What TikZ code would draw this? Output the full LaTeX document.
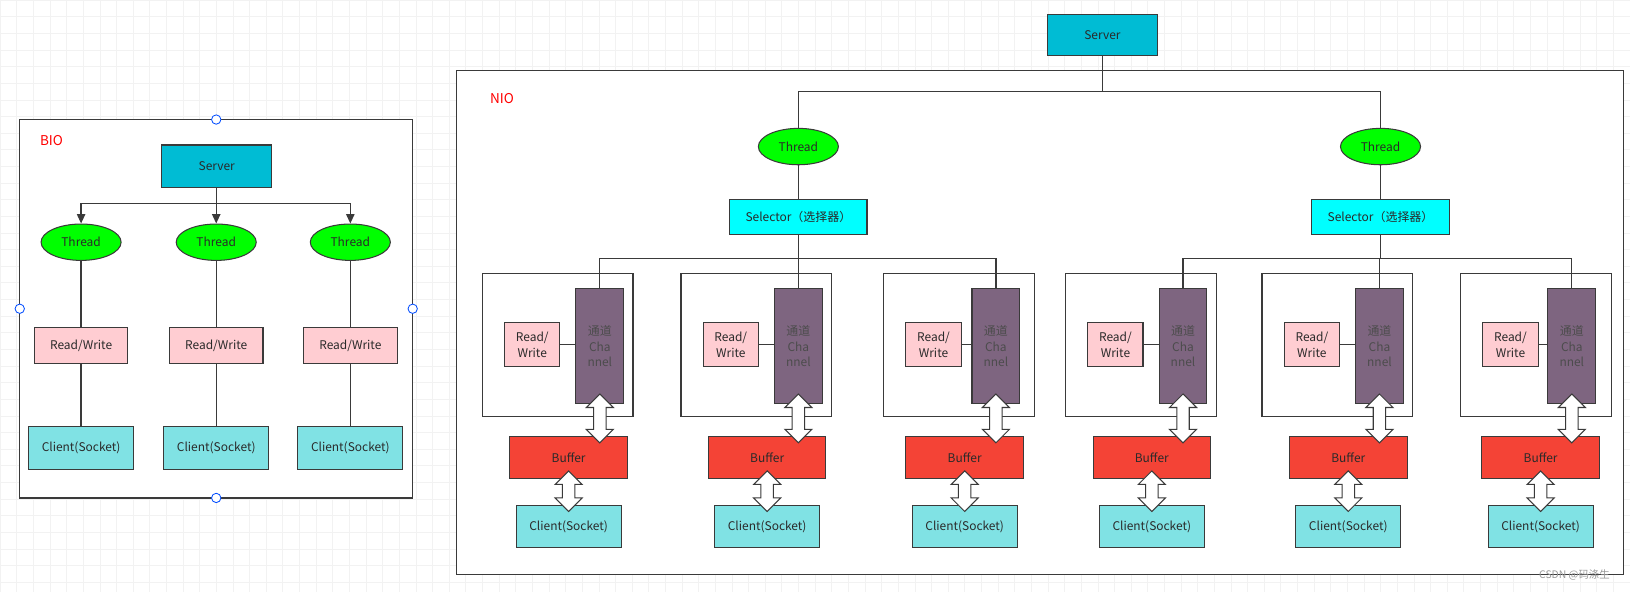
\documentclass[tikz,border=0pt]{standalone}
\usepackage{fontspec}
\setmainfont{Noto Sans CJK SC}
\usetikzlibrary{calc,shapes.geometric,arrows.meta}
\definecolor{srv}{HTML}{00BCD4}
\definecolor{thr}{HTML}{00FF00}
\definecolor{rw}{HTML}{FFCDD2}
\definecolor{cli}{HTML}{80E2E4}
\definecolor{sel}{HTML}{00FFFF}
\definecolor{chn}{HTML}{7E6580}
\definecolor{buf}{HTML}{F44336}
\definecolor{ln}{HTML}{3A3A3A}
\definecolor{txt}{HTML}{2A2A2A}
\newcommand\fatarrow[2]{%
  \draw[ln,fill=white,line width=1pt,line join=miter] let \p1=(#1), \p2=(#2) in
   (\x1,\y1) -- (\x1+13pt,\y1-13pt) -- (\x1+6pt,\y1-13pt) -- (\x2+6pt,\y2+13pt) -- (\x2+13pt,\y2+13pt)
   -- (\x2,\y2) -- (\x2-13pt,\y2+13pt) -- (\x2-6pt,\y2+13pt) -- (\x1-6pt,\y1-13pt) -- (\x1-13pt,\y1-13pt) -- cycle;}
\begin{document}
\begin{tikzpicture}[x=1pt,y=-1pt,
  box/.style={draw=ln,line width=1pt,text=txt,font=\fontsize{11.5}{13}\selectfont,inner sep=0pt,anchor=north west},
  wire/.style={draw=ln,line width=1.2pt},
  frame/.style={draw=ln,line width=1.2pt,fill=white},
  thread/.style={ellipse,draw=ln,line width=1pt,fill=thr,text=txt,minimum width=77pt,minimum height=35pt,inner sep=0pt,font=\fontsize{11.5}{13}\selectfont},
  handle/.style={circle,draw=blue!70!cyan,fill=white,line width=0.8pt,minimum size=9pt,inner sep=0pt}]
\useasboundingbox (0,0) rectangle (1568,569);
\fill[white] (0,0) rectangle (1568,569);
\foreach \i in {0,16,...,1568} \draw[black!5,line width=0.5pt] (\i,0) -- (\i,569);
\foreach \i in {0,16,...,569} \draw[black!5,line width=0.5pt] (0,\i) -- (1568,\i);
% ---------- BIO ----------
\draw[frame] (19,115) rectangle (397,479);
\node[anchor=west,text=red,font=\fontsize{13}{15}\selectfont] (bio) at (35,135) {BIO};
\node[box,fill=srv,minimum width=106pt,minimum height=41pt] (bsrv) at (155,139) {Server};
\foreach \n/\x in {1/78,2/208,3/337}{
  \node[thread] (bt\n) at (\x,233) {Thread};
  \node[box,fill=rw,minimum width=90pt,minimum height=35pt,anchor=center] (brw\n) at (\x,332.5) {Read/Write};
  \node[box,fill=cli,minimum width=101pt,minimum height=42pt,anchor=center] (bcl\n) at (\x,431) {Client(Socket)};
  \draw[wire] (bt\n) -- (brw\n);
  \draw[wire] (brw\n) -- (bcl\n);
}
\coordinate (bj) at (bsrv.south |- 0,196);
\draw[wire] (bsrv.south) -- (bj);
\foreach \n in {1,2,3} \draw[wire,-{Triangle[length=9pt,width=8pt]}] (bj) -| (bt\n.north);
\node[handle] (h1) at (208,115) {};
\node[handle] (h2) at (208,479) {};
\node[handle] (h3) at (19,297) {};
\node[handle] (h4) at (397,297) {};
% ---------- NIO ----------
\draw[frame] (439,68) rectangle (1562,553);
\node[anchor=west,text=red,font=\fontsize{13}{15}\selectfont] (nio) at (468,95) {NIO};
\node[box,fill=srv,minimum width=106pt,minimum height=40pt] (nsrv) at (1007,13) {Server};
\foreach \s/\x in {1/768,2/1328}{
  \node[thread] (nt\s) at (\x,141) {Thread};
  \node[box,fill=sel,minimum width=132pt,minimum height=34pt,anchor=center] (sel\s) at (\x,209) {Selector（选择器）};
  \draw[wire] (nt\s) -- (sel\s);
}
\coordinate (nj) at (nsrv.south |- 0,88);
\draw[wire] (nsrv.south) -- (nj) -| (nt1.north);
\draw[wire] (nj) -| (nt2.north);
\foreach \g/\l/\o in {1/464/113,2/655/113,3/850/108,4/1025/113,5/1214/113,6/1405/107}{
  \draw[line width=1.2pt,draw=ln] (\l,263) rectangle ++(145,138);
  \node[box,fill=chn,minimum width=46pt,minimum height=111pt,anchor=north,align=center,text=black!70,font=\fontsize{11.5}{15}\selectfont] (ch\g) at (\l+\o,277) {通道\\Cha\\nnel};
  \node[box,fill=rw,minimum width=53pt,minimum height=42pt,align=center,font=\fontsize{11.5}{15}\selectfont] (rw\g) at (\l+21,310) {Read/\\Write};
  \node[box,fill=buf,minimum width=113pt,minimum height=41pt] (bf\g) at (\l+\o-87,419) {Buffer};
  \node[box,fill=cli,minimum width=101pt,minimum height=40pt] (cl\g) at (\l+\o-81,486) {Client(Socket)};
  \draw[wire] (rw\g.east) -- (rw\g.east -| ch\g.west);
  \fatarrow{$(ch\g.south)+(0,-10)$}{$(ch\g.south |- bf\g.north)+(0,7)$}
  \fatarrow{$(bf\g.south)+(0,-8)$}{$(bf\g.south |- cl\g.north)+(0,6)$}
}
\coordinate (s1j) at (sel1.south |- 0,249);
\coordinate (s2j) at (sel2.south |- 0,249);
\draw[wire] (sel1.south) -- (s1j);
\draw[wire] (sel2.south) -- (s2j);
\foreach \g in {1,2,3} \draw[wire] (s1j) -| (ch\g.north);
\foreach \g in {4,5,6} \draw[wire] (s2j) -| (ch\g.north);
\node[anchor=east,text=black!40,font=\fontsize{10}{12}\selectfont] (wm) at (1552,553) {CSDN @码涤生};
\end{tikzpicture}
\end{document}
